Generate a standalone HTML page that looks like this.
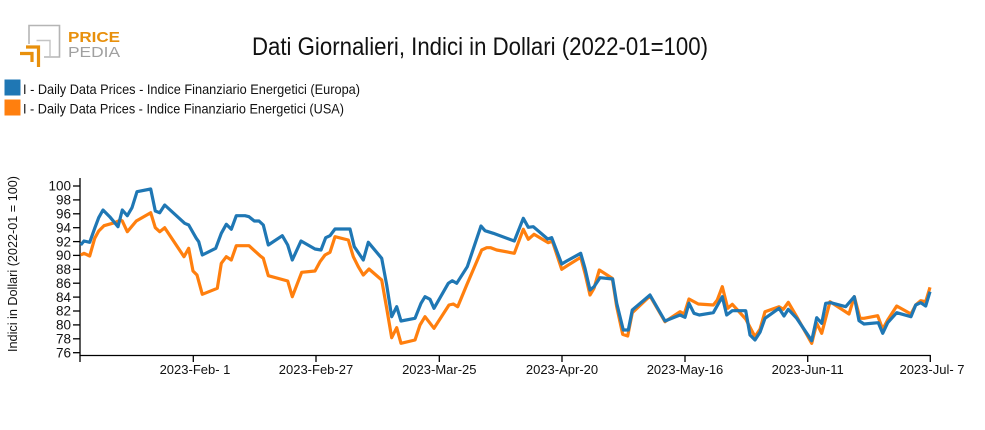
<!DOCTYPE html>
<html><head><meta charset="utf-8"><style>
html,body{margin:0;padding:0;background:#fff;}
svg{display:block;font-family:"Liberation Sans",sans-serif;}
</style></head><body>
<svg width="985" height="430" viewBox="0 0 985 430" xmlns="http://www.w3.org/2000/svg">
<!-- logo -->
<g fill="none">
<polyline points="29,44 29,25.5 59.5,25.5 59.5,57 44,57" stroke="#b5b5b5" stroke-width="1.6"/>
<polyline points="36.5,40.5 50,40.5 50,57" stroke="#c4c4c4" stroke-width="1.4"/>
<polyline points="26,47 38.5,47 38.5,67" stroke="#e8900c" stroke-width="3.2"/>
<polyline points="20,53.5 32,53.5 32,62" stroke="#e8900c" stroke-width="3.2"/>
</g>
<text x="68" y="42" font-size="15" font-weight="bold" fill="#e8900c" textLength="52" lengthAdjust="spacingAndGlyphs">PRICE</text>
<text x="68" y="57" font-size="15" fill="#a0a0a0" textLength="52" lengthAdjust="spacingAndGlyphs">PEDIA</text>
<!-- title -->
<text x="252" y="55" font-size="25" fill="#111" textLength="456" lengthAdjust="spacingAndGlyphs">Dati Giornalieri, Indici in Dollari (2022-01=100)</text>
<!-- legend -->
<rect x="4.5" y="79.5" width="16" height="16" fill="#1f77b4"/>
<rect x="4.5" y="99.5" width="16" height="16" fill="#ff7f0e"/>
<text x="23" y="94" font-size="14" fill="#111" textLength="337" lengthAdjust="spacingAndGlyphs">I - Daily Data Prices - Indice Finanziario Energetici (Europa)</text>
<text x="23" y="113.5" font-size="14" fill="#111" textLength="321" lengthAdjust="spacingAndGlyphs">I - Daily Data Prices - Indice Finanziario Energetici (USA)</text>
<!-- y label -->
<text transform="translate(17,264) rotate(-90)" text-anchor="middle" font-size="13" fill="#111" textLength="176" lengthAdjust="spacingAndGlyphs">Indici in Dollari (2022-01 = 100)</text>
<!-- axes -->
<g stroke="#000" stroke-width="1.3" fill="none">
<line x1="80" y1="178" x2="80" y2="355.5"/>
<line x1="80" y1="355.5" x2="930.5" y2="355.5"/>
<line x1="73" y1="186" x2="80" y2="186"/>
<line x1="73" y1="199.9" x2="80" y2="199.9"/>
<line x1="73" y1="213.8" x2="80" y2="213.8"/>
<line x1="73" y1="227.7" x2="80" y2="227.7"/>
<line x1="73" y1="241.6" x2="80" y2="241.6"/>
<line x1="73" y1="255.4" x2="80" y2="255.4"/>
<line x1="73" y1="269.3" x2="80" y2="269.3"/>
<line x1="73" y1="283.2" x2="80" y2="283.2"/>
<line x1="73" y1="297.1" x2="80" y2="297.1"/>
<line x1="73" y1="311" x2="80" y2="311"/>
<line x1="73" y1="324.9" x2="80" y2="324.9"/>
<line x1="73" y1="338.8" x2="80" y2="338.8"/>
<line x1="73" y1="352.7" x2="80" y2="352.7"/>
<line x1="80" y1="355" x2="80" y2="362"/>
<line x1="193.3" y1="355" x2="193.3" y2="362"/>
<line x1="316" y1="355" x2="316" y2="362"/>
<line x1="439.3" y1="355" x2="439.3" y2="362"/>
<line x1="562" y1="355" x2="562" y2="362"/>
<line x1="685" y1="355" x2="685" y2="362"/>
<line x1="807.7" y1="355" x2="807.7" y2="362"/>
<line x1="930.3" y1="355" x2="930.3" y2="362"/>
</g>
<g font-size="13.5" fill="#111" text-anchor="end">
<text x="71" y="190.7">100</text>
<text x="71" y="204.6">98</text>
<text x="71" y="218.5">96</text>
<text x="71" y="232.4">94</text>
<text x="71" y="246.3">92</text>
<text x="71" y="260.1">90</text>
<text x="71" y="274">88</text>
<text x="71" y="287.9">86</text>
<text x="71" y="301.8">84</text>
<text x="71" y="315.7">82</text>
<text x="71" y="329.6">80</text>
<text x="71" y="343.5">78</text>
<text x="71" y="357.4">76</text>
</g>
<g font-size="13" fill="#111" text-anchor="middle">
<text x="195" y="374">2023-Feb- 1</text>
<text x="316" y="374">2023-Feb-27</text>
<text x="439.3" y="374">2023-Mar-25</text>
<text x="562" y="374">2023-Apr-20</text>
<text x="685" y="374">2023-May-16</text>
<text x="807.7" y="374">2023-Jun-11</text>
<text x="932" y="374">2023-Jul- 7</text>
</g>
<!-- series -->
<polyline fill="none" stroke="#ff7f0e" stroke-width="3.2" stroke-linejoin="round" points="80.7,255 84,253.3 89.7,256 94.7,238.3 98.7,231 104,225.7 114.7,222.7 120.7,220 122.3,221 127.3,231.7 136.3,221 150.7,212.7 155.3,227.7 159.7,231.7 164.7,227.7 184,256.7 188.7,248.3 193,271 197,275 202.3,294.3 217.3,288.3 221.3,263.3 226.3,256.7 231.3,260 236.3,245.7 249,245.7 260,255.7 263.3,258.3 268.3,275.7 287.7,281 292.3,296.7 301.7,272.3 315,271 320,261.7 325,255 330,252.3 335,236.7 348.3,240 353.3,256.7 358.3,266.7 363.3,275 369,269 381.7,280 386.7,308.3 391.7,337.7 396.7,327.7 401,343.3 415,340 420,325 425,316.7 434,328.3 449,305 453.3,304 457.7,306.7 466.7,285 481.7,250 486.7,247.7 490.7,247.7 496.7,250 514.3,253.3 523.3,229.3 528.3,239.3 534,234.3 548.3,242.7 552.3,241 561.7,269.3 566.7,266 580.7,257.3 585,273.3 590,295 594,288.3 599.3,270 612.3,278.3 616.7,306.7 622.7,334.3 627.7,336 632.3,312.7 650,296 665,321.7 680,311.7 684.3,314 689,299 698.3,304 713.3,305 717.3,300 722.3,286.7 727.7,308.3 732.3,304.3 745.7,319 755,336.7 760,329.3 765,311.7 779,306.7 783.3,309.3 788.3,302.3 796.7,316.7 811.7,343.3 816.7,323.3 821.7,333.3 830,301.7 849,314 854.3,296.7 860,318.3 864,318.3 877.7,315.7 882.7,329.3 887.7,320 896.7,306 911,314 915.7,305 920.7,300.7 925.7,301.7 930,287.3"/>
<polyline fill="none" stroke="#1f77b4" stroke-width="3.2" stroke-linejoin="round" points="80.7,245 84,241 89.7,242.3 94.7,228.3 98.7,217.7 103,210 109.7,216.7 118,226.7 122.3,210 127.3,215.7 132,207.7 137,191.7 150.7,189 155.3,211 159.7,212.7 164.7,205 184.7,223.3 188.7,225 196.3,238.3 198.7,241.7 202.3,255 215.7,248.3 221.3,233.3 226.3,224.3 231.3,229.3 236.3,215.7 245,215.7 249,216.7 254.3,221 259,221 263.3,225 268.3,245 282.3,235.7 287.7,245 292.3,260 301,241 315,249 321,250 325.7,237.7 330,235.7 335,229 350,229 354.3,246.7 363.3,260 368.3,242.3 381.7,258.3 386.7,285 391.7,316.7 396.7,306.7 401,321 415,318.3 421,303.3 425,296.7 430,299.3 434,308.3 448.3,283.3 452.3,280.7 456.7,283.3 467.3,266.7 481,226 485,230.7 493.3,233.3 514.3,241 523.3,218.3 528.3,227.3 533.3,226.7 547.7,239 551.7,237.7 561.7,264 566.7,261 580.7,253.3 585,268.3 590,290 594,286.7 600,277.7 612.7,279 616.7,303.3 623.3,330 628.3,330 632.3,310 650,295 665,321 680,315 685,317.3 689,303.3 694,313.3 699.3,315 713.3,312.7 722.3,296.7 726.7,315 732.3,310.7 745.7,310.7 750,335 755,340 760,332.3 765,318.3 779,308.3 784,316 788.3,309.3 796.7,318.3 811.7,340.7 816.7,317.7 821.7,323.3 825.7,303.3 830.7,302.7 845.7,306.7 854.3,296.7 859,320.7 864,324 878.3,322.7 882.7,333.3 887.7,322.7 896.7,312.7 911,316.7 915.7,305 920.7,302.7 925.7,306 930,291.7"/>
</svg>
</body></html>
